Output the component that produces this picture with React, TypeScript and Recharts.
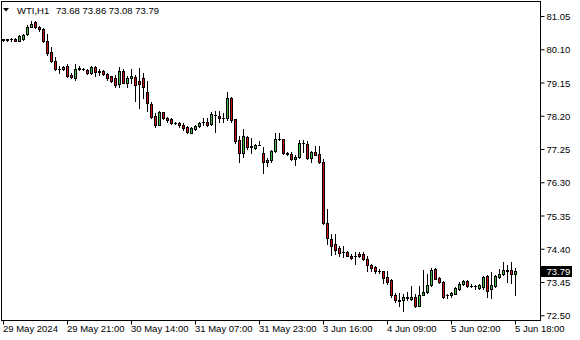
import React from 'react';
import { ComposedChart, Bar, XAxis, YAxis, ReferenceLine, Customized } from 'recharts';

const symbolLabel = 'WTI,H1';

const opens = [
  80.39, 80.39, 80.40, 80.42, 80.36, 80.42, 80.54, 80.76, 80.88, 80.74,
  80.68, 80.36, 80.05, 79.79, 79.56, 79.54, 79.65, 79.39, 79.28, 79.56,
  79.55, 79.51, 79.45, 79.62, 79.48, 79.49, 79.41, 79.34, 79.28, 79.11,
  79.48, 79.16, 79.28, 79.31, 79.22, 79.28, 78.88, 78.56, 78.22, 77.96,
  78.31, 78.16, 78.12, 78.02, 78.01, 77.95, 77.88, 77.72, 77.85, 77.92,
  78.04, 78.04, 77.99, 78.25, 78.22, 78.15, 78.14, 78.72, 78.11, 77.51,
  77.16, 77.62, 77.34, 77.29, 77.39, 77.16, 76.89, 76.96, 77.22, 77.55,
  77.54, 77.16, 77.12, 76.99, 77.04, 77.44, 77.41, 77.02, 77.18, 77.12,
  76.89, 75.14, 74.68, 74.54, 74.44, 74.32, 74.32, 74.22, 74.22, 74.26,
  74.26, 74.11, 73.94, 73.89, 73.78, 73.78, 73.61, 73.51, 73.09, 72.94,
  72.94, 73.02, 72.98, 73.04, 72.79, 73.10, 73.18, 73.38, 73.84, 73.58,
  73.46, 73.09, 73.08, 73.13, 73.27, 73.40, 73.50, 73.36, 73.34, 73.30,
  73.32, 73.63, 73.27, 73.34, 73.60, 73.69, 73.79, 73.82, 73.68,
];

const highs = [
  80.42, 80.42, 80.43, 80.44, 80.51, 80.56, 80.82, 80.91, 80.92, 80.79,
  80.71, 80.54, 80.19, 79.88, 79.65, 79.65, 79.68, 79.45, 79.68, 79.65,
  79.58, 79.54, 79.65, 79.65, 79.56, 79.52, 79.45, 79.36, 79.39, 79.62,
  79.56, 79.36, 79.56, 79.39, 79.59, 79.45, 79.22, 78.61, 78.28, 78.36,
  78.32, 78.18, 78.15, 78.04, 78.04, 78.01, 77.91, 77.89, 77.95, 78.05,
  78.15, 78.14, 78.32, 78.36, 78.34, 78.29, 78.88, 78.76, 78.12, 77.65,
  77.84, 77.65, 77.59, 77.42, 77.48, 77.32, 77.01, 77.25, 77.71, 77.71,
  77.56, 77.19, 77.18, 77.09, 77.51, 77.51, 77.48, 77.22, 77.34, 77.34,
  76.98, 75.54, 74.85, 74.84, 74.49, 74.49, 74.35, 74.26, 74.32, 74.32,
  74.32, 74.22, 73.98, 73.92, 73.84, 73.79, 73.79, 73.54, 73.16, 73.15,
  73.11, 73.18, 73.35, 73.11, 73.36, 73.82, 73.69, 73.86, 73.87, 73.60,
  73.48, 73.13, 73.17, 73.32, 73.46, 73.52, 73.52, 73.41, 73.38, 73.41,
  73.63, 73.67, 73.74, 73.67, 73.84, 74.05, 73.94, 74.05, 73.86,
];

const lows = [
  80.36, 80.35, 80.36, 80.34, 80.34, 80.39, 80.52, 80.74, 80.71, 80.65,
  80.31, 79.96, 79.74, 79.51, 79.45, 79.51, 79.31, 79.28, 79.25, 79.51,
  79.51, 79.42, 79.42, 79.36, 79.39, 79.38, 79.25, 79.19, 79.05, 79.05,
  79.14, 79.05, 79.16, 78.65, 78.45, 78.73, 78.34, 78.14, 77.89, 77.94,
  78.11, 78.05, 77.99, 77.99, 77.88, 77.81, 77.72, 77.71, 77.82, 77.88,
  77.95, 77.92, 77.95, 77.75, 78.04, 78.04, 78.08, 78.05, 77.45, 76.89,
  77.04, 77.26, 77.14, 77.26, 77.37, 76.59, 76.78, 76.89, 77.19, 77.51,
  77.12, 77.09, 76.94, 76.82, 77.01, 77.18, 76.98, 76.89, 77.08, 76.86,
  75.11, 74.54, 74.25, 74.26, 74.22, 74.19, 74.20, 74.12, 73.99, 74.19,
  74.08, 73.79, 73.79, 73.72, 73.71, 73.45, 73.42, 73.04, 72.90, 72.79,
  72.65, 72.95, 72.94, 72.75, 72.77, 73.08, 73.16, 73.36, 73.54, 73.43,
  73.01, 73.00, 73.03, 73.11, 73.24, 73.38, 73.32, 73.32, 73.27, 73.27,
  73.27, 73.03, 73.00, 73.33, 73.58, 73.67, 73.46, 73.44, 73.08,
];

const closes = [
  80.40, 80.40, 80.40, 80.36, 80.48, 80.51, 80.76, 80.85, 80.74, 80.68,
  80.34, 80.02, 79.79, 79.54, 79.54, 79.62, 79.35, 79.31, 79.56, 79.58,
  79.54, 79.45, 79.62, 79.46, 79.47, 79.41, 79.28, 79.22, 79.08, 79.48,
  79.16, 79.28, 79.34, 79.08, 79.11, 79.05, 78.59, 78.18, 77.96, 78.31,
  78.15, 78.09, 78.02, 78.01, 77.94, 77.86, 77.75, 77.86, 77.92, 78.01,
  78.03, 77.96, 78.26, 78.24, 78.15, 78.14, 78.72, 78.08, 77.48, 77.16,
  77.65, 77.32, 77.32, 77.39, 77.38, 76.89, 76.96, 77.22, 77.55, 77.56,
  77.15, 77.12, 76.99, 77.05, 77.44, 77.43, 77.01, 77.18, 77.09, 76.89,
  75.16, 74.71, 74.49, 74.39, 74.29, 74.31, 74.22, 74.15, 74.21, 74.21,
  74.11, 73.95, 73.86, 73.79, 73.77, 73.58, 73.46, 73.08, 72.94, 72.93,
  73.05, 73.03, 73.05, 72.78, 73.09, 73.19, 73.38, 73.82, 73.56, 73.46,
  73.04, 73.10, 73.14, 73.29, 73.41, 73.50, 73.34, 73.35, 73.34, 73.38,
  73.60, 73.22, 73.38, 73.63, 73.69, 73.82, 73.80, 73.69, 73.79,
];

const xTickIndex = [0, 16, 32, 48, 64, 80, 96, 112, 128];
const xTickLabels = [
  '29 May 2024', '29 May 21:00', '30 May 14:00', '31 May 07:00', '31 May 23:00',
  '3 Jun 16:00', '4 Jun 09:00', '5 Jun 02:00', '5 Jun 18:00',
];
const yTicks = [81.05, 80.10, 79.15, 78.20, 77.25, 76.30, 75.35, 74.40, 73.45, 72.50];
const yDomain = [72.3643, 81.4786];

const data = opens.map((o, i) => ({
  i,
  open: o,
  high: highs[i],
  low: lows[i],
  close: closes[i],
  range: [lows[i], highs[i]],
}));

const last = data[data.length - 1];

const FONT = "'Liberation Sans', Arial, sans-serif";
const FS = 9.5;
const GREEN = '#3fb83f';
const RED = '#d01010';

const Candle = (props: any) => {
  const { x, y, width, height, payload } = props;
  if (x == null || y == null || !payload) return null;
  const top0 = Math.min(y, y + height);
  const h0 = Math.abs(height);
  const { open, close, high, low } = payload;
  const py = (p: number) => top0 + ((high - p) / (high - low)) * h0;
  const cx = Math.floor(x + width / 2);
  const yH = Math.round(py(high));
  const yL = Math.round(py(low));
  const yO = Math.round(py(open));
  const yC = Math.round(py(close));
  const bt = Math.min(yO, yC);
  const bb = Math.max(yO, yC);
  const bull = close > open;
  return (
    <g>
      <rect x={cx} y={yH} width={1} height={yL - yH + 1} fill="#000" />
      <rect x={cx - 1} y={bt} width={3} height={bb - bt + 1} fill="#000" />
      {bb - bt >= 2 && (
        <rect x={cx} y={bt + 1} width={1} height={bb - bt - 1} fill={bull ? GREEN : RED} />
      )}
    </g>
  );
};

const XTick = (props: any) => {
  const { x, payload } = props;
  const idx = xTickIndex.indexOf(payload.value);
  const label = idx >= 0 ? xTickLabels[idx] : '';
  return (
    <text x={x - 0.5} y={332} fontFamily={FONT} fontSize={FS} fill="#000" textAnchor="start">
      {label}
    </text>
  );
};

const YTick = (props: any) => {
  const { y, payload } = props;
  return (
    <text x={546.5} y={y + 3.5} fontFamily={FONT} fontSize={FS} fill="#000" textAnchor="start">
      {Number(payload.value).toFixed(2)}
    </text>
  );
};

const Header = () => (
  <g>
    <rect x={1.5} y={1.5} width={539} height={319} fill="none" stroke="#000" strokeWidth={1} />
    <polygon points="3,8 9,8 6,11.5" fill="#000" />
    <text x={17} y={14} fontFamily={FONT} fontSize={FS} fill="#000">{symbolLabel}</text>
    <text x={56} y={14} fontFamily={FONT} fontSize={FS} fill="#000">
      {`${last.open.toFixed(2)} ${last.high.toFixed(2)} ${last.low.toFixed(2)} ${last.close.toFixed(2)}`}
    </text>
  </g>
);

const PriceTag = (props: any) => {
  const vb = props.viewBox || {};
  const x = (vb.x || 0) + (vb.width || 0) + 0.5;
  const y = vb.y || 0;
  return (
    <g>
      <rect x={x} y={Math.round(y) - 5} width={31} height={11} fill="#000" />
      <text x={x + 5.5} y={Math.round(y) + 3.5} fontFamily={FONT} fontSize={FS} fill="#fff">
        {last.close.toFixed(2)}
      </text>
    </g>
  );
};

export default function App() {
  return (
    <div style={{ position: 'absolute', left: 0, top: 0, width: 580, height: 340, background: '#fff' }}>
      <ComposedChart
        width={580}
        height={340}
        data={data}
        margin={{ top: 1.5, left: 1.5, right: 0, bottom: 0 }}
        barCategoryGap={0}
      >
        <XAxis
          dataKey="i"
          type="category"
          ticks={xTickIndex}
          interval={0}
          padding={{ left: 0, right: 23 }}
          height={19.5}
          tickSize={4}
          axisLine={{ stroke: '#000' }}
          tickLine={{ stroke: '#000' }}
          tick={<XTick />}
        />
        <YAxis
          yAxisId="p"
          orientation="right"
          type="number"
          domain={yDomain}
          allowDataOverflow
          ticks={yTicks}
          interval={0}
          width={39.5}
          tickSize={4}
          axisLine={{ stroke: '#000' }}
          tickLine={{ stroke: '#000' }}
          tick={<YTick />}
        />
        <Bar
          yAxisId="p"
          dataKey="range"
          shape={<Candle />}
          isAnimationActive={false}
        />
        <ReferenceLine
          yAxisId="p"
          y={last.close}
          stroke="none"
          label={<PriceTag />}
        />
        <Customized component={Header} />
      </ComposedChart>
    </div>
  );
}
